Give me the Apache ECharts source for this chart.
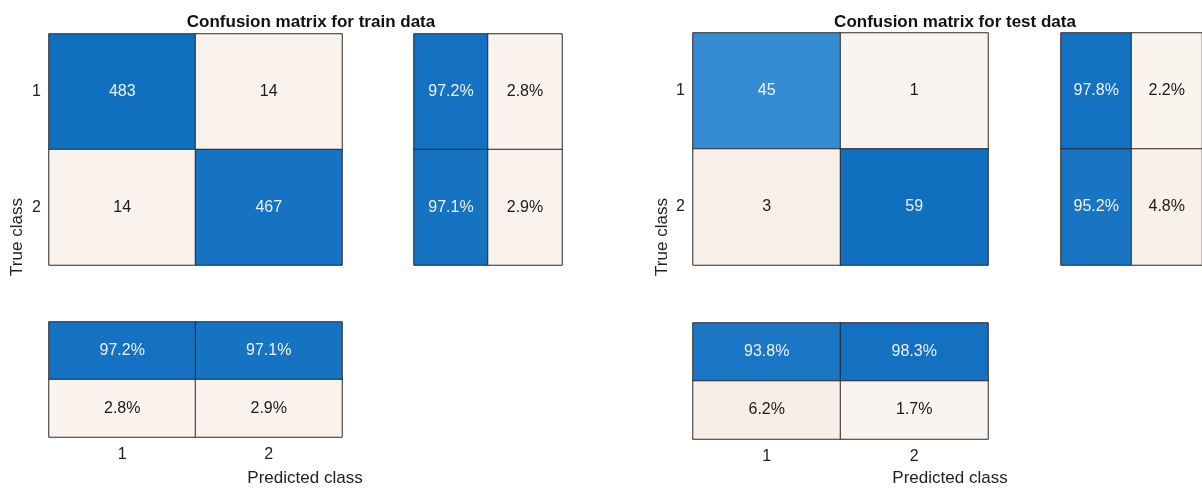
<!DOCTYPE html>
<html><head><meta charset="utf-8">
<script src="https://cdn.jsdelivr.net/npm/echarts@6/dist/echarts.min.js"></script>
<style>html,body{margin:0;padding:0;background:#fff}#c{width:1202px;height:488px}</style>
</head><body><div id="c"></div>
<script>
// ---- data ----
const classes = ['1', '2'];
const trainCounts = [[483, 14], [14, 467]];
const testCounts = [[45, 1], [3, 59]];
const trainRowPct = [[97.2, 2.8], [97.1, 2.9]];   // per true class: correct, incorrect
const trainColPct = [[97.2, 97.1], [2.8, 2.9]];   // rows: correct, incorrect ; cols: predicted class
const testRowPct = [[97.8, 2.2], [95.2, 4.8]];
const testColPct = [[93.8, 98.3], [6.2, 1.7]];
const titles = ['Confusion matrix for train data', 'Confusion matrix for test data'];
const xName = 'Predicted class';
const yName = 'True class';

// ---- styling helpers ----
const FONT = '"Liberation Sans", Arial, Helvetica, sans-serif';
const BLUE = [17, 111, 192], SKY = [95, 172, 232], ORANGE = [217, 83, 25], LIGHT = [251, 247, 243];
function mix(a, b, t) { return 'rgb(' + a.map((v, i) => Math.round(v + (b[i] - v) * t)).join(',') + ')'; }
function goodColor(r) { return mix(SKY, BLUE, Math.max(0, Math.min(1, (r - 0.5) * 2))); }
function badColor(r) { return mix(LIGHT, ORANGE, Math.min(1, r * 0.9)); }

const layouts = [
  { main: { left: 49, top: 34, width: 293, height: 231 }, row: { left: 414, top: 34, width: 148, height: 231 }, col: { left: 49, top: 322, width: 293, height: 115 }, titleX: 306, yLabX: 17, xLabX: 305 },
  { main: { left: 693, top: 33, width: 295, height: 232 }, row: { left: 1061, top: 33, width: 150, height: 232 }, col: { left: 693, top: 323, width: 295, height: 116 }, titleX: 950, yLabX: 662, xLabX: 950 }
];
const sets = [
  { counts: trainCounts, rowPct: trainRowPct, colPct: trainColPct },
  { counts: testCounts, rowPct: testRowPct, colPct: testColPct }
];

const grids = [], xAxes = [], yAxes = [], series = [], titleOpts = [], graphics = [];
function item(x, y, v, good, ratio) {
  return {
    value: [x, y, v],
    itemStyle: { color: good ? goodColor(ratio) : badColor(ratio) },
    label: { color: good ? '#eef2f6' : '#1a1a1a' }
  };
}
function addGrid(g, xCats, yCats, showX, showY, data, fmt) {
  const idx = grids.length;
  grids.push(Object.assign({ containLabel: false }, g));
  xAxes.push({ type: 'category', gridIndex: idx, data: xCats, axisLine: { show: false }, axisTick: { show: false }, splitLine: { show: false },
    axisLabel: { show: showX, margin: 10, fontSize: 16, color: '#222', fontFamily: FONT } });
  yAxes.push({ type: 'category', gridIndex: idx, data: yCats, inverse: true, axisLine: { show: false }, axisTick: { show: false }, splitLine: { show: false },
    axisLabel: { show: showY, margin: 8, fontSize: 16, color: '#222', fontFamily: FONT } });
  series.push({ type: 'heatmap', xAxisIndex: idx, yAxisIndex: idx, data: data,
    itemStyle: { borderColor: '#2a2a2a', borderWidth: 1 },
    label: { show: true, fontSize: 16, fontFamily: FONT, formatter: p => fmt(p.value[2]) },
    emphasis: { disabled: true } });
}

sets.forEach((s, k) => {
  const L = layouts[k];
  const maxC = Math.max(...s.counts.flat());
  const mainData = [];
  s.counts.forEach((row, i) => row.forEach((v, j) => mainData.push(item(j, i, v, i === j, v / maxC))));
  addGrid(L.main, classes, classes, false, true, mainData, v => String(v));

  const rowData = [];
  s.rowPct.forEach((row, i) => row.forEach((v, j) => rowData.push(item(j, i, v, j === 0, v / 100))));
  addGrid(L.row, ['correct', 'incorrect'], classes, false, false, rowData, v => v.toFixed(1) + '%');

  const colData = [];
  s.colPct.forEach((row, i) => row.forEach((v, j) => colData.push(item(j, i, v, i === 0, v / 100))));
  addGrid(L.col, classes, ['correct', 'incorrect'], true, false, colData, v => v.toFixed(1) + '%');

  titleOpts.push({ text: titles[k], left: L.titleX, top: 9, textAlign: 'center',
    textStyle: { fontSize: 17, fontWeight: 'bold', color: '#111', fontFamily: FONT } });
  graphics.push({ type: 'text', x: L.yLabX, y: 237, rotation: Math.PI / 2,
    style: { text: yName, fill: '#222', font: '17px ' + FONT, align: 'center', verticalAlign: 'middle', textAlign: 'center', textVerticalAlign: 'middle' } });
  graphics.push({ type: 'text', x: L.xLabX, y: 478,
    style: { text: xName, fill: '#222', font: '17px ' + FONT, align: 'center', verticalAlign: 'middle', textAlign: 'center', textVerticalAlign: 'middle' } });
});

const chart = echarts.init(document.getElementById('c'), null, { renderer: 'canvas' });
chart.setOption({
  backgroundColor: '#ffffff',
  animation: false,
  title: titleOpts,
  grid: grids,
  xAxis: xAxes,
  yAxis: yAxes,
  series: series,
  graphic: graphics
});
</script>
</body></html>
